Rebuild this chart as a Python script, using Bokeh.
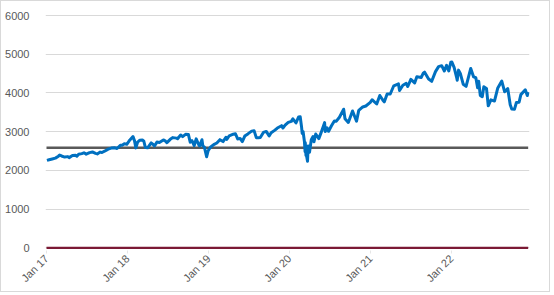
import math
from datetime import datetime
from bokeh.plotting import figure
from bokeh.models import Range1d, FixedTicker, ColumnDataSource
from bokeh.embed import file_html
from bokeh.resources import INLINE

dates = [
    "2017-01-03","2017-01-13","2017-01-27","2017-02-10","2017-02-24","2017-03-01","2017-03-10","2017-03-24",
    "2017-04-07","2017-04-13","2017-04-28","2017-05-12","2017-05-18","2017-05-26","2017-06-09","2017-06-19",
    "2017-06-29","2017-07-14","2017-07-27","2017-08-10","2017-08-18","2017-08-31","2017-09-08","2017-09-22",
    "2017-10-06","2017-10-20","2017-11-03","2017-11-15","2017-11-30","2017-12-08","2017-12-18","2017-12-29",
    "2018-01-12","2018-01-26","2018-02-02","2018-02-08","2018-02-16","2018-02-26","2018-03-09","2018-03-16",
    "2018-03-23","2018-04-02","2018-04-18","2018-04-27","2018-05-03","2018-05-14","2018-05-25","2018-06-12",
    "2018-06-22","2018-06-28","2018-07-13","2018-07-25","2018-08-10","2018-08-15","2018-08-29","2018-09-07",
    "2018-09-20","2018-10-03","2018-10-11","2018-10-19","2018-10-29","2018-11-07","2018-11-20","2018-11-23",
    "2018-12-03","2018-12-07","2018-12-14","2018-12-24","2018-12-31",
    "2019-01-10","2019-01-25","2019-02-08","2019-02-22","2019-03-08","2019-03-21","2019-03-25","2019-04-05",
    "2019-04-23","2019-05-03","2019-05-13","2019-05-24","2019-06-03","2019-06-14","2019-06-28","2019-07-15",
    "2019-07-26","2019-08-05","2019-08-14","2019-08-23","2019-09-06","2019-09-19","2019-10-02","2019-10-11",
    "2019-10-28","2019-11-08","2019-11-27","2019-12-03","2019-12-13","2019-12-27",
    "2020-01-10","2020-01-17","2020-01-31","2020-02-12","2020-02-19","2020-02-25","2020-02-28","2020-03-03",
    "2020-03-09","2020-03-12","2020-03-13","2020-03-16","2020-03-18","2020-03-23","2020-03-26","2020-04-01",
    "2020-04-09","2020-04-17","2020-04-21","2020-04-29","2020-05-13","2020-05-22","2020-06-08","2020-06-11",
    "2020-06-19","2020-06-26","2020-07-09","2020-07-22","2020-07-31","2020-08-14","2020-09-02","2020-09-08",
    "2020-09-23","2020-10-12","2020-10-30","2020-11-09","2020-11-27","2020-12-11","2020-12-31",
    "2021-01-08","2021-01-29","2021-02-12","2021-02-26","2021-03-04","2021-03-17","2021-03-31","2021-04-16",
    "2021-05-07","2021-05-12","2021-05-27","2021-06-11","2021-06-18","2021-07-02","2021-07-19","2021-07-29",
    "2021-08-18","2021-08-27","2021-09-02","2021-09-20","2021-10-04","2021-10-21","2021-11-04","2021-11-18",
    "2021-11-30","2021-12-10","2021-12-20","2021-12-29",
    "2022-01-03","2022-01-13","2022-01-24","2022-01-27","2022-02-02","2022-02-10","2022-02-23","2022-03-08",
    "2022-03-29","2022-04-11","2022-04-21","2022-04-29","2022-05-04","2022-05-11","2022-05-20","2022-05-27",
    "2022-06-08","2022-06-16","2022-06-28","2022-07-14","2022-07-29","2022-08-16","2022-08-29","2022-09-12",
    "2022-09-23","2022-09-30","2022-10-12","2022-10-21","2022-11-02","2022-11-10","2022-11-30","2022-12-09",
    "2022-12-13",
]
index_values = [
    2258,2275,2295,2316,2367,2396,2372,2344,
    2355,2329,2384,2390,2365,2416,2432,2453,
    2419,2459,2475,2438,2425,2472,2461,2502,
    2549,2575,2587,2564,2647,2651,2690,2674,
    2786,2873,2762,2581,2732,2780,2786,2752,
    2588,2582,2708,2670,2630,2730,2721,2787,
    2755,2716,2801,2846,2833,2818,2914,2872,
    2931,2925,2728,2768,2641,2814,2642,2633,
    2790,2633,2600,2351,2507,
    2597,2665,2708,2793,2743,2855,2798,2893,
    2934,2946,2812,2826,2744,2887,2942,3014,
    3026,2845,2840,2847,2979,3006,2888,2970,
    3039,3093,3154,3093,3169,3240,
    3265,3330,3225,3379,3386,3128,2954,3003,
    2747,2481,2711,2386,2398,2237,2631,2470,
    2790,2875,2737,2940,2820,2955,3232,3002,
    3098,3009,3152,3276,3271,3373,3580,3332,
    3237,3535,3270,3550,3638,3663,3756,
    3825,3714,3934,3811,3768,3975,3973,4185,
    4233,4063,4200,4247,4166,4352,4258,4419,
    4400,4509,4537,4358,4300,4550,4680,4704,
    4567,4712,4568,4793,
    4797,4659,4410,4326,4589,4504,4225,4170,
    4632,4413,4393,4132,4300,3935,3901,4158,
    4116,3667,3821,3790,4130,4305,4030,4110,
    3693,3586,3577,3752,3759,3956,4080,3934,
    4019,
]
reference_level = 2585
zero_level = 0

tick_dates = ["2017-01-01","2018-01-01","2019-01-01","2020-01-01","2021-01-01","2022-01-01"]
tick_labels = ["Jan 17","Jan 18","Jan 19","Jan 20","Jan 21","Jan 22"]
y_ticks = [0, 1000, 2000, 3000, 4000, 5000, 6000]

def ms(s):
    return datetime.strptime(s, "%Y-%m-%d").timestamp() * 1000.0

xs = [ms(d) for d in dates]
tick_ms = [ms(d) for d in tick_dates]

YEAR_MS = 365.25 * 86400000.0
PX_PER_YEAR = 81.0
x_start = tick_ms[0] - (1.0 / PX_PER_YEAR) * YEAR_MS
x_end = tick_ms[0] + ((528 - 45) / PX_PER_YEAR) * YEAR_MS

p = figure(width=550, height=292, output_backend="svg", toolbar_location=None,
           x_axis_type="datetime",
           x_range=Range1d(x_start, x_end), y_range=Range1d(-69.7, 6051.7),
           min_border_left=44, min_border_right=22, min_border_top=12, min_border_bottom=43)
p.styles = {"border": "1px solid #D9D9D9"}
p.outline_line_color = None
p.background_fill_color = "white"
p.border_fill_color = "white"

p.xgrid.grid_line_color = None
p.ygrid.grid_line_color = "#D9D9D9"
p.ygrid.grid_line_width = 1

p.yaxis.ticker = FixedTicker(ticks=y_ticks)
p.yaxis.axis_line_color = None
p.yaxis.major_tick_line_color = None
p.yaxis.minor_tick_line_color = None
p.yaxis.major_label_standoff = 10
p.yaxis.major_label_text_font = "Liberation Sans"
p.yaxis.major_label_text_font_size = "11px"
p.yaxis.major_label_text_color = "#595959"

p.xaxis.ticker = FixedTicker(ticks=tick_ms)
p.xaxis.major_label_overrides = {t: l for t, l in zip(tick_ms, tick_labels)}
p.xaxis.major_label_orientation = math.pi / 4
p.xaxis.axis_line_color = None
p.xaxis.major_tick_line_color = "#E6E6E6"
p.xaxis.major_tick_in = 0
p.xaxis.major_tick_out = 3
p.xaxis.minor_tick_line_color = None
p.xaxis.major_label_standoff = 3
p.xaxis.major_label_text_font = "Liberation Sans"
p.xaxis.major_label_text_font_size = "11px"
p.xaxis.major_label_text_color = "#595959"

x0, x1 = tick_ms[0], xs[-1]
p.line([x0, x1], [zero_level, zero_level], line_color="#7B1A35", line_width=2.2)
p.line([x0, x1], [reference_level, reference_level], line_color="#595959", line_width=2.5)
p.line(xs, index_values, line_color="#0070C0", line_width=3, line_join="round")

open("out.html", "w").write(file_html(p, INLINE))
